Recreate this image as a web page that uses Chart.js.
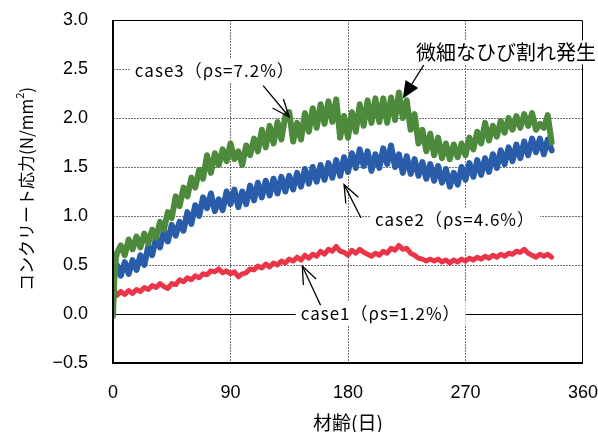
<!DOCTYPE html>
<html>
<head>
<meta charset="utf-8">
<script src="https://cdn.jsdelivr.net/npm/chart.js@4"></script>
<style>
  html, body { margin: 0; padding: 0; background: #fff; }
  #wrap { width: 598px; height: 432px; position: relative; }
</style>
</head>
<body>
<div id="wrap"><canvas id="stressChart"></canvas></div>
<script>
// === Data ===
const days = [0, 1, 2,
  3, 6, 9, 12, 15, 18, 21, 24, 27, 30, 33, 36,
  39, 42, 45, 48, 51, 54, 57, 60, 63, 66, 69, 72,
  75, 78, 81, 84, 87, 90, 93, 96, 99, 102, 105, 108,
  111, 114, 117, 120, 123, 126, 129, 132, 135, 138, 141, 144,
  147, 150, 153, 156, 159, 162, 165, 168, 171, 174, 177, 180,
  183, 186, 189, 192, 195, 198, 201, 204, 207, 210, 213, 216,
  219, 222, 225, 228, 231, 234, 237, 240, 243, 246, 249, 252,
  255, 258, 261, 264, 267, 270, 273, 276, 279, 282, 285, 288,
  291, 294, 297, 300, 303, 306, 309, 312, 315, 318, 321, 324,
  327, 330, 333, 336];

const case3 = [-0.02, 0.35, 0.55,
  0.62, 0.70, 0.60, 0.76, 0.66, 0.79, 0.68, 0.82, 0.72, 0.86, 0.78, 0.94,
  0.86, 1.04, 0.98, 1.20, 1.10, 1.29, 1.20, 1.39, 1.29, 1.47, 1.38, 1.62,
  1.44, 1.64, 1.52, 1.68, 1.56, 1.74, 1.58, 1.66, 1.52, 1.72, 1.62, 1.79,
  1.66, 1.88, 1.70, 1.92, 1.74, 1.96, 1.78, 2.02, 2.06, 1.76, 1.95, 1.78,
  2.05, 1.86, 2.10, 1.90, 2.14, 1.94, 2.17, 1.96, 2.19, 1.80, 2.02, 1.80,
  2.06, 1.86, 2.14, 1.92, 2.18, 1.95, 2.20, 1.96, 2.20, 1.95, 2.21, 1.98,
  2.26, 2.00, 2.18, 1.88, 2.04, 1.74, 1.88, 1.66, 1.84, 1.62, 1.80, 1.59,
  1.74, 1.58, 1.73, 1.60, 1.74, 1.62, 1.80, 1.68, 1.86, 1.74, 1.95, 1.77,
  1.92, 1.81, 1.97, 1.85, 2.00, 1.88, 2.02, 1.90, 2.04, 1.92, 2.05, 1.88,
  1.94, 1.90, 2.03, 1.75];

const case2 = [0.28, 0.40, 0.46,
  0.50, 0.39, 0.53, 0.41, 0.55, 0.45, 0.60, 0.50, 0.69, 0.60, 0.78, 0.68,
  0.85, 0.74, 0.91, 0.80, 0.94, 0.85, 1.04, 0.92, 1.11, 1.00, 1.19, 1.08,
  1.23, 1.05, 1.17, 1.06, 1.25, 1.12, 1.27, 1.09, 1.25, 1.12, 1.31, 1.16,
  1.34, 1.19, 1.36, 1.21, 1.38, 1.23, 1.40, 1.25, 1.41, 1.27, 1.44, 1.30,
  1.48, 1.33, 1.50, 1.35, 1.52, 1.37, 1.54, 1.39, 1.57, 1.41, 1.60, 1.45,
  1.64, 1.49, 1.68, 1.51, 1.66, 1.46, 1.63, 1.49, 1.69, 1.53, 1.72, 1.50,
  1.63, 1.44, 1.61, 1.43, 1.58, 1.41, 1.55, 1.38, 1.53, 1.36, 1.51, 1.34,
  1.48, 1.30, 1.44, 1.32, 1.50, 1.37, 1.54, 1.40, 1.57, 1.42, 1.59, 1.45,
  1.63, 1.49, 1.67, 1.53, 1.70, 1.56, 1.73, 1.59, 1.76, 1.62, 1.79, 1.65,
  1.79, 1.63, 1.78, 1.67];

const case1 = [0.17, 0.20, 0.22,
  0.19, 0.23, 0.20, 0.24, 0.21, 0.25, 0.23, 0.27, 0.25, 0.29, 0.27, 0.31,
  0.28, 0.26, 0.31, 0.30, 0.35, 0.33, 0.37, 0.35, 0.39, 0.37, 0.41, 0.40,
  0.44, 0.43, 0.46, 0.42, 0.44, 0.41, 0.43, 0.38, 0.41, 0.42, 0.46, 0.45,
  0.49, 0.47, 0.51, 0.48, 0.52, 0.50, 0.54, 0.52, 0.56, 0.54, 0.58, 0.55,
  0.60, 0.57, 0.61, 0.59, 0.64, 0.61, 0.66, 0.64, 0.69, 0.64, 0.63, 0.60,
  0.65, 0.62, 0.66, 0.63, 0.61, 0.59, 0.62, 0.60, 0.64, 0.62, 0.67, 0.65,
  0.70, 0.66, 0.67, 0.62, 0.60, 0.57, 0.56, 0.54, 0.56, 0.54, 0.56, 0.53,
  0.55, 0.52, 0.55, 0.53, 0.56, 0.54, 0.57, 0.55, 0.58, 0.56, 0.59, 0.57,
  0.60, 0.58, 0.61, 0.59, 0.62, 0.61, 0.64, 0.63, 0.66, 0.62, 0.60, 0.58,
  0.61, 0.59, 0.61, 0.58];

const xTicks = [0, 90, 180, 270, 360];
const yTicks = [-0.5, 0.0, 0.5, 1.0, 1.5, 2.0, 2.5, 3.0];

const seriesNames = ['case3', 'case2', 'case1'];

// annotation text, placed in data coordinates
const notes = [
  { text: 'case3（ρs=7.2%）', day: 78, val: 2.48, font: '17px "Noto Sans CJK JP"', spacing: '1px' },
  { text: '微細なひび割れ発生', day: 301, val: 2.67, font: '20px "Noto Sans CJK JP"', spacing: '0px' },
  { text: 'case2（ρs=4.6%）', day: 262, val: 0.96, font: '17px "Noto Sans CJK JP"', spacing: '1px' },
  { text: 'case1（ρs=1.2%）', day: 205, val: 0.0, font: '17px "Noto Sans CJK JP"', spacing: '1px' }
];
const arrows = [
  { from: [115, 2.33], to: [135, 2.01], filled: false },
  { from: [238, 2.54], to: [222, 2.20], filled: true },
  { from: [190, 0.98], to: [177, 1.32], filled: false },
  { from: [159, 0.09], to: [145, 0.49], filled: false }
];

const toPoints = vals => days.map((d, i) => ({ x: d, y: vals[i] }));

// === Grid, frame, labels, arrows ===
const chartDecor = {
  id: 'chartDecor',
  beforeDatasetsDraw(chart) {
    const { ctx, chartArea: a, scales: { x, y } } = chart;
    ctx.save();
    ctx.strokeStyle = '#707070';
    ctx.lineWidth = 1;
    ctx.setLineDash([2, 1]);
    yTicks.forEach(v => {
      if (v === 0 || v === yTicks[0] || v === yTicks[yTicks.length - 1]) return;
      const py = Math.round(y.getPixelForValue(v)) + 0.5;
      ctx.beginPath(); ctx.moveTo(a.left, py); ctx.lineTo(a.right, py); ctx.stroke();
    });
    xTicks.forEach(v => {
      if (v === xTicks[0] || v === xTicks[xTicks.length - 1]) return;
      const px = Math.round(x.getPixelForValue(v)) + 0.5;
      ctx.beginPath(); ctx.moveTo(px, a.top); ctx.lineTo(px, a.bottom); ctx.stroke();
    });
    ctx.setLineDash([]);
    ctx.strokeStyle = '#000';
    const zy = Math.round(y.getPixelForValue(0)) + 0.5;
    ctx.beginPath(); ctx.moveTo(a.left, zy); ctx.lineTo(a.right, zy); ctx.stroke();
    ctx.restore();
  },
  afterDatasetsDraw(chart) {
    const { ctx, chartArea: a, scales: { x, y } } = chart;
    ctx.save();
    // frame
    ctx.strokeStyle = '#000';
    ctx.lineWidth = 1;
    ctx.beginPath();
    ctx.moveTo(a.left, a.top + 0.5); ctx.lineTo(a.right - 0.5, a.top + 0.5); ctx.lineTo(a.right - 0.5, a.bottom);
    ctx.stroke();
    ctx.lineWidth = 2;
    ctx.beginPath();
    ctx.moveTo(a.left, a.top); ctx.lineTo(a.left, a.bottom); ctx.lineTo(a.right, a.bottom);
    ctx.stroke();

    // labels with white boxes
    ctx.textAlign = 'center';
    ctx.textBaseline = 'middle';
    notes.forEach(n => {
      ctx.font = n.font;
      ctx.letterSpacing = n.spacing;
      const w = ctx.measureText(n.text).width;
      const cx = x.getPixelForValue(n.day), cy = y.getPixelForValue(n.val);
      ctx.fillStyle = '#fff';
      ctx.fillRect(cx - w / 2 - 5, cy - 12, w + 10, 24);
      ctx.fillStyle = '#000';
      ctx.fillText(n.text, cx, cy);
    });
    ctx.letterSpacing = '0px';

    // arrows
    ctx.strokeStyle = '#000';
    ctx.fillStyle = '#000';
    ctx.lineWidth = 1.3;
    arrows.forEach(ar => {
      const x1 = x.getPixelForValue(ar.from[0]), y1 = y.getPixelForValue(ar.from[1]);
      const x2 = x.getPixelForValue(ar.to[0]), y2 = y.getPixelForValue(ar.to[1]);
      const ang = Math.atan2(y2 - y1, x2 - x1);
      if (ar.filled) {
        const len = 17, half = 7.5;
        const bx = x2 - len * Math.cos(ang), by = y2 - len * Math.sin(ang);
        ctx.beginPath(); ctx.moveTo(x1, y1); ctx.lineTo(bx, by); ctx.stroke();
        ctx.beginPath();
        ctx.moveTo(x2, y2);
        ctx.lineTo(bx + half * Math.sin(ang), by - half * Math.cos(ang));
        ctx.lineTo(bx - half * Math.sin(ang), by + half * Math.cos(ang));
        ctx.closePath(); ctx.fill();
      } else {
        const len = 19, spread = 0.38;
        ctx.beginPath(); ctx.moveTo(x1, y1); ctx.lineTo(x2, y2); ctx.stroke();
        ctx.beginPath();
        ctx.moveTo(x2 - len * Math.cos(ang - spread), y2 - len * Math.sin(ang - spread));
        ctx.lineTo(x2, y2);
        ctx.lineTo(x2 - len * Math.cos(ang + spread), y2 - len * Math.sin(ang + spread));
        ctx.stroke();
      }
    });

    // axis titles
    ctx.fillStyle = '#000';
    ctx.font = '19px "Noto Sans CJK JP"';
    ctx.textAlign = 'center';
    ctx.textBaseline = 'middle';
    ctx.fillText('材齢(日)', (a.left + a.right) / 2, a.bottom + 60);

    const t1 = 'コンクリート応力(N/mm', t2 = '2', t3 = ')';
    ctx.save();
    ctx.translate(27, 189);
    ctx.rotate(-Math.PI / 2);
    ctx.textAlign = 'left';
    ctx.font = '17px "Noto Sans CJK JP"';
    const w1 = ctx.measureText(t1).width, w3 = ctx.measureText(t3).width;
    ctx.font = '11px "Noto Sans CJK JP"';
    const w2 = ctx.measureText(t2).width;
    const sx = -(w1 + w2 + w3) / 2;
    ctx.font = '17px "Noto Sans CJK JP"';
    ctx.fillText(t1, sx, 0);
    ctx.font = '11px "Noto Sans CJK JP"';
    ctx.fillText(t2, sx + w1, -7);
    ctx.font = '17px "Noto Sans CJK JP"';
    ctx.fillText(t3, sx + w1 + w2, 0);
    ctx.restore();

    ctx.restore();
  }
};

const tickFont = { family: '"Liberation Sans", Arial, sans-serif', size: 18 };

new Chart(document.getElementById('stressChart'), {
  type: 'line',
  data: {
    datasets: [
      { label: seriesNames[0], data: toPoints(case3), borderColor: '#4e8a3c', borderWidth: 6 },
      { label: seriesNames[1], data: toPoints(case2), borderColor: '#2a5da9', borderWidth: 6 },
      { label: seriesNames[2], data: toPoints(case1), borderColor: '#ea3447', borderWidth: 5 }
    ]
  },
  options: {
    responsive: true,
    maintainAspectRatio: false,
    animation: false,
    layout: { padding: { left: 0, right: 15, top: 20, bottom: 0 } },
    elements: {
      point: { radius: 0 },
      line: { tension: 0, borderJoinStyle: 'round', borderCapStyle: 'round' }
    },
    plugins: { legend: { display: false }, tooltip: { enabled: false } },
    scales: {
      x: {
        type: 'linear',
        min: 0, max: 360,
        afterBuildTicks: s => { s.ticks = xTicks.map(v => ({ value: v })); },
        afterFit: s => { s.height = 69; },
        // labels offset by tick length (ticks themselves are not drawn)
        grid: { display: false, drawTicks: true, tickLength: 19 },
        border: { display: false },
        ticks: { color: '#000', font: tickFont, padding: 0, maxRotation: 0 }
      },
      y: {
        min: -0.5, max: 3.0,
        afterBuildTicks: s => { s.ticks = yTicks.map(v => ({ value: v })); },
        afterFit: s => { s.width = 113; },
        grid: { display: false, drawTicks: true, tickLength: 25 },
        border: { display: false },
        ticks: {
          color: '#000', font: tickFont, padding: 0,
          callback: v => (v < 0 ? '\u2212' + Math.abs(v).toFixed(1) : v.toFixed(1))
        }
      }
    }
  },
  plugins: [chartDecor]
});
</script>
</body>
</html>
